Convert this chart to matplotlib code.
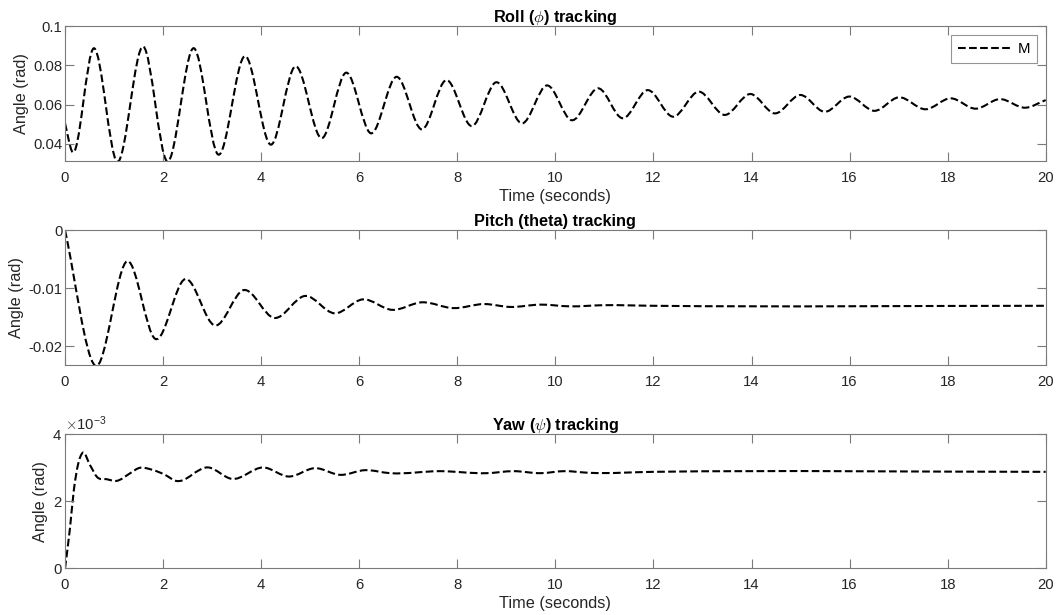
import numpy as np
import matplotlib
matplotlib.use("Agg")
import matplotlib.pyplot as plt
from matplotlib.path import Path
from matplotlib.patches import PathPatch
from matplotlib.lines import Line2D
from matplotlib.ticker import FormatStrFormatter, ScalarFormatter

plt.rcParams["font.family"] = ["Liberation Sans", "DejaVu Sans"]
plt.rcParams["mathtext.fontset"] = "cm"

# values (turning points + a few shape points)
roll_t = [0, 0.14, 0.59, 1.06, 1.60, 2.08, 2.63, 3.12, 3.67, 4.20, 4.69, 5.24,
          5.73, 6.24, 6.76, 7.28, 7.77, 8.30, 8.79, 9.32, 9.83, 10.33, 10.88,
          11.37, 11.88, 12.40, 12.92, 13.45, 13.98, 14.47, 15.00, 15.49, 15.99,
          16.51, 17.00, 17.55, 18.06, 18.57, 19.06, 19.59, 20.00]
roll_v = [0.0504, 0.0362, 0.0888, 0.0308, 0.0896, 0.0310, 0.0888, 0.0345,
          0.0848, 0.0395, 0.0795, 0.0428, 0.0763, 0.0453, 0.0742, 0.0473,
          0.0725, 0.0490, 0.0714, 0.0504, 0.0698, 0.0520, 0.0683, 0.0530,
          0.0674, 0.0538, 0.0666, 0.0547, 0.0654, 0.0555, 0.0649, 0.0563,
          0.0641, 0.0568, 0.0637, 0.0576, 0.0632, 0.0579, 0.0628, 0.0584, 0.0623]

pitch_t = [0, 0.61, 1.28, 1.84, 2.45, 3.06, 3.64, 4.27, 4.90, 5.50, 6.07, 6.67,
           7.28, 7.92, 8.55, 9.08, 9.69, 10.31, 10.97, 12.0, 20.0]
pitch_v = [0.0, -0.0233, -0.0053, -0.0187, -0.0084, -0.0164, -0.0103, -0.0151,
           -0.0113, -0.0143, -0.0119, -0.0137, -0.0124, -0.0134, -0.0127,
           -0.0132, -0.0128, -0.0131, -0.0129, -0.0130, -0.0130]

yaw_t = [0, 0.10, 0.18, 0.27, 0.36, 0.51, 0.65, 0.85, 1.05, 1.33, 1.50, 1.80,
         2.04, 2.24, 2.93, 3.40, 4.05, 4.56, 5.10, 5.61, 6.12, 6.63, 7.65, 8.60,
         9.15, 9.70, 10.17, 10.70, 12.0, 20.0]
yaw_v = [0.0, 1.19e-3, 2.34e-3, 3.13e-3, 3.45e-3, 3.08e-3, 2.73e-3, 2.66e-3,
         2.61e-3, 2.84e-3, 2.99e-3, 2.93e-3, 2.79e-3, 2.62e-3, 3.01e-3, 2.67e-3,
         3.01e-3, 2.74e-3, 2.99e-3, 2.79e-3, 2.93e-3, 2.84e-3, 2.90e-3, 2.84e-3,
         2.90e-3, 2.84e-3, 2.90e-3, 2.85e-3, 2.88e-3, 2.88e-3]

x_ticks = list(range(0, 21, 2))

EDGE = "#7a7a7a"
TXT = "#262626"


def smooth_path(t, v):
    # cubic bezier through the read points, tangents from neighbours
    t = np.asarray(t, float)
    v = np.asarray(v, float)
    m = np.gradient(v, t)
    verts = [(t[0], v[0])]
    codes = [Path.MOVETO]
    for i in range(len(t) - 1):
        h = t[i + 1] - t[i]
        verts += [(t[i] + h / 3, v[i] + m[i] * h / 3),
                  (t[i + 1] - h / 3, v[i + 1] - m[i + 1] * h / 3),
                  (t[i + 1], v[i + 1])]
        codes += [Path.CURVE4] * 3
    return Path(verts, codes)


def draw_curve(ax, t, v):
    patch = PathPatch(smooth_path(t, v), fill=False, edgecolor="black",
                      linewidth=1.5, linestyle="--", capstyle="butt")
    ax.add_patch(patch)


def style_axes(ax):
    for sp in ax.spines.values():
        sp.set_color(EDGE)
        sp.set_linewidth(0.8)
    ax.tick_params(direction="in", length=6.5, width=0.8, color=EDGE,
                   labelcolor=TXT, labelsize=10.7, top=True, right=True)
    ax.tick_params(axis="x", pad=7)
    ax.tick_params(axis="y", pad=2)
    ax.set_xlim(0, 20)
    ax.set_xticks(x_ticks)


fig = plt.figure(figsize=(10.61, 6.15), dpi=100)
ax1 = fig.add_axes([0.0613, 0.7377, 0.9243, 0.2195])
ax2 = fig.add_axes([0.0613, 0.4065, 0.9243, 0.2190])
ax3 = fig.add_axes([0.0613, 0.0759, 0.9243, 0.2179])

# Roll
draw_curve(ax1, roll_t, roll_v)
style_axes(ax1)
ax1.set_ylim(0.031, 0.1)
ax1.set_yticks([0.04, 0.06, 0.08, 0.1])
ax1.yaxis.set_major_formatter(FormatStrFormatter("%g"))
ax1.set_title(r"Roll ($\phi$) tracking", fontsize=11.7, fontweight="bold", pad=3)
ax1.set_xlabel("Time (seconds)", fontsize=11.7, color=TXT, labelpad=3)
ax1.set_ylabel("Angle (rad)", fontsize=11.7, color=TXT, labelpad=3)
leg = ax1.legend(handles=[Line2D([], [], color="black", lw=1.5, ls="--")],
                 labels=["M"], loc="upper right", fontsize=10.7, fancybox=False,
                 handlelength=3.7, handletextpad=0.3, borderpad=0.45,
                 borderaxespad=0.6)
leg.get_frame().set_edgecolor(EDGE)
leg.get_frame().set_linewidth(0.8)

# Pitch
draw_curve(ax2, pitch_t, pitch_v)
style_axes(ax2)
ax2.set_ylim(-0.0232, 0)
ax2.set_yticks([-0.02, -0.01, 0])
ax2.yaxis.set_major_formatter(FormatStrFormatter("%g"))
ax2.set_title("Pitch (theta) tracking", fontsize=11.7, fontweight="bold", pad=3)
ax2.set_ylabel("Angle (rad)", fontsize=11.7, color=TXT, labelpad=3)

# Yaw
draw_curve(ax3, yaw_t, yaw_v)
style_axes(ax3)
ax3.set_ylim(0, 0.004)
ax3.set_yticks([0, 0.002, 0.004])
fmt = ScalarFormatter(useMathText=True)
fmt.set_powerlimits((0, 0))
ax3.yaxis.set_major_formatter(fmt)
ax3.yaxis.get_offset_text().set_fontsize(10.7)
ax3.yaxis.get_offset_text().set_color(TXT)
ax3.set_title(r"Yaw ($\psi$) tracking", fontsize=11.7, fontweight="bold", pad=3)
ax3.set_xlabel("Time (seconds)", fontsize=11.7, color=TXT, labelpad=3)
ax3.set_ylabel("Angle (rad)", fontsize=11.7, color=TXT, labelpad=3)

fig.savefig("out.png", dpi=100)
